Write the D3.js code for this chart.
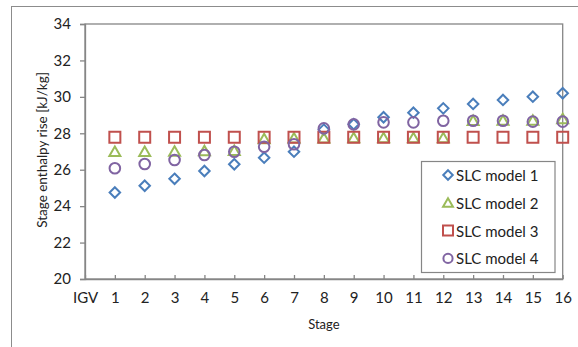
<!DOCTYPE html>
<html>
<head>
<meta charset="utf-8">
<script src="https://cdn.jsdelivr.net/npm/d3@7"></script>
<style>
  html, body { margin: 0; padding: 0; background: #fff; }
  svg { display: block; font-family: Lato, "Open Sans", sans-serif; }
</style>
</head>
<body>
<svg id="chart" width="578" height="347"></svg>
<script>
// Stage numbers (0 is the inlet guide vane, labelled IGV)
const stages = [1, 2, 3, 4, 5, 6, 7, 8, 9, 10, 11, 12, 13, 14, 15, 16];
const xTickValues = [0, 1, 2, 3, 4, 5, 6, 7, 8, 9, 10, 11, 12, 13, 14, 15, 16];
const xTickLabels = ["IGV", "1", "2", "3", "4", "5", "6", "7", "8", "9", "10", "11", "12", "13", "14", "15", "16"];
const yTickValues = [20, 22, 24, 26, 28, 30, 32, 34];

// Stage enthalpy rise [kJ/kg] per model
const seriesNames = ["SLC model 1", "SLC model 2", "SLC model 3", "SLC model 4"];
const model1 = [24.75, 25.12, 25.5, 25.93, 26.3, 26.66, 26.99, 28.2, 28.5, 28.88, 29.13, 29.37, 29.61, 29.83, 30.01, 30.2];
const model2 = [27.0, 27.0, 27.02, 27.04, 27.05, 27.7, 27.74, 27.74, 27.76, 27.76, 27.76, 27.76, 28.7, 28.72, 28.72, 28.8];
const model3 = [27.78, 27.78, 27.78, 27.78, 27.78, 27.78, 27.78, 27.78, 27.78, 27.78, 27.78, 27.78, 27.78, 27.78, 27.78, 27.78];
const model4 = [26.08, 26.31, 26.53, 26.81, 26.99, 27.26, 27.4, 28.27, 28.49, 28.6, 28.6, 28.69, 28.69, 28.69, 28.64, 28.64];

const seriesValues = [model1, model2, model3, model4];
const seriesColors = ["#4A7EBB", "#9BBB59", "#C0504D", "#8064A2"];
const seriesShapes = ["diamond", "triangle", "square", "circle"];

const svg = d3.select("#chart");
const plot = { left: 85, top: 24, right: 562.7, bottom: 279 };
const axisColor = "#868686";

// Chart area frame
svg.append("rect")
  .attr("x", 11.5).attr("y", 6.5)
  .attr("width", 620).attr("height", 400)
  .attr("fill", "#fff").attr("stroke", "#8c8c8c").attr("stroke-width", 1);

const x = d3.scaleLinear().domain([0, 16]).range([plot.left, plot.right]);
const y = d3.scaleLinear().domain([20, 34]).range([plot.bottom, plot.top]);

// Plot area border
svg.append("rect")
  .attr("x", plot.left).attr("y", plot.top)
  .attr("width", plot.right - plot.left).attr("height", plot.bottom - plot.top)
  .attr("fill", "none").attr("stroke", axisColor).attr("stroke-width", 1.3);

// Y axis
const yAxis = svg.append("g")
  .attr("transform", `translate(${plot.left},0)`)
  .call(d3.axisLeft(y).tickValues(yTickValues).tickSize(5).tickPadding(9).tickFormat(d3.format("d")));
yAxis.select(".domain").attr("stroke", axisColor).attr("stroke-width", 1.3);
yAxis.selectAll(".tick line").attr("stroke", axisColor).attr("stroke-width", 1.3);
yAxis.selectAll(".tick text").attr("fill", "#222").style("font-size", "15px")
  .style("font-family", "Lato, 'Open Sans', sans-serif");

// X axis (ticks drawn inward)
const xAxis = svg.append("g")
  .attr("transform", `translate(0,${plot.bottom})`)
  .call(d3.axisBottom(x).tickValues(xTickValues).tickSizeInner(-4).tickSizeOuter(0).tickPadding(13)
    .tickFormat((d, i) => xTickLabels[i]));
xAxis.select(".domain").attr("stroke", axisColor).attr("stroke-width", 1.3);
xAxis.selectAll(".tick line").attr("stroke", axisColor).attr("stroke-width", 1.3);
xAxis.selectAll(".tick text").attr("fill", "#222").style("font-size", "15px")
  .style("font-family", "Lato, 'Open Sans', sans-serif");

// Axis titles
svg.append("text")
  .attr("x", (plot.left + plot.right) / 2).attr("y", 324)
  .attr("text-anchor", "middle").attr("dominant-baseline", "central")
  .attr("fill", "#222").style("font-size", "13px")
  .text("Stage");

svg.append("text")
  .attr("transform", "translate(41.5,150) rotate(-90)")
  .attr("text-anchor", "middle").attr("dominant-baseline", "central")
  .attr("fill", "#222").style("font-size", "13.5px")
  .text("Stage enthalpy rise [kJ/kg]");

// Marker path generator for each shape, centred on the origin
function markerPath(shape, s) {
  const h = s / 2;
  switch (shape) {
    case "diamond": return `M0,${-h}L${h},0L0,${h}L${-h},0Z`;
    case "triangle": { const t = s * 0.5; return `M0,${-t}L${t * 1.1},${t * 0.9}L${-t * 1.1},${t * 0.9}Z`; }
    case "square": return `M${-h},${-h}H${h}V${h}H${-h}Z`;
    default: return null;
  }
}
const markerSize = { diamond: 10.5, triangle: 10, square: 11, circle: 5.3 };

function drawMarker(g, shape, color) {
  if (shape === "circle") {
    g.append("circle").attr("r", markerSize.circle)
      .attr("fill", "none").attr("stroke", color).attr("stroke-width", 2);
  } else {
    g.append("path").attr("d", markerPath(shape, markerSize[shape]))
      .attr("fill", "none").attr("stroke", color).attr("stroke-width", 2)
      .attr("stroke-linejoin", "miter");
  }
}

// Data markers
seriesValues.forEach((vals, si) => {
  const g = svg.append("g").attr("class", "series");
  g.selectAll("g.pt")
    .data(stages.map((s, i) => ({ stage: s, value: vals[i] })))
    .join("g")
    .attr("class", "pt")
    .attr("transform", d => `translate(${x(d.stage)},${y(d.value)})`)
    .each(function () { drawMarker(d3.select(this), seriesShapes[si], seriesColors[si]); });
});

// Legend
const legend = svg.append("g");
legend.append("rect")
  .attr("x", 421.5).attr("y", 161.5).attr("width", 133.5).attr("height", 111)
  .attr("fill", "#fff").attr("stroke", axisColor).attr("stroke-width", 1.2);
seriesNames.forEach((name, i) => {
  const cy = 175 + i * 27.8;
  const item = legend.append("g").attr("transform", `translate(448,${cy})`);
  const shape = seriesShapes[i];
  if (shape === "circle") {
    item.append("circle").attr("r", 4.6).attr("fill", "none")
      .attr("stroke", seriesColors[i]).attr("stroke-width", 2);
  } else {
    const sz = { diamond: 9.5, triangle: 9, square: 10 }[shape];
    item.append("path").attr("d", markerPath(shape, sz)).attr("fill", "none")
      .attr("stroke", seriesColors[i]).attr("stroke-width", 2);
  }
  item.append("text").attr("x", 8).attr("y", 0)
    .attr("dominant-baseline", "central").attr("fill", "#222")
    .style("font-size", "15px").text(name);
});
</script>
</body>
</html>
